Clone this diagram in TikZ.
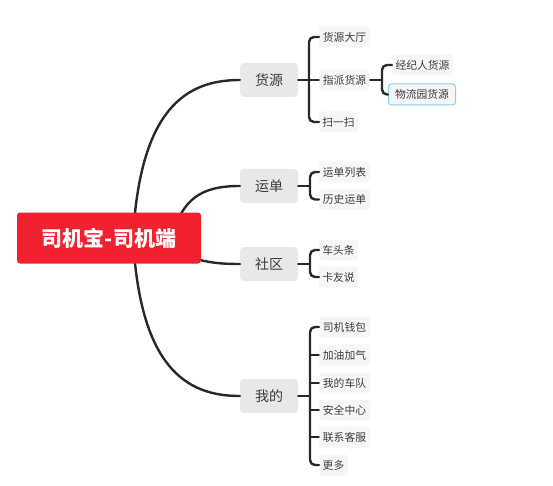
\documentclass[tikz,border=0pt]{standalone}
\usepackage{fontspec}
\setmainfont{Noto Sans CJK SC}
\definecolor{rootred}{RGB}{242,33,48}
\definecolor{linec}{RGB}{40,40,40}
\definecolor{mainfill}{RGB}{232,232,232}
\definecolor{leaffill}{RGB}{246,246,246}
\definecolor{txt}{RGB}{60,60,60}
\definecolor{selblue}{RGB}{128,210,245}
\tikzset{
  rootbox/.style={fill=rootred, rounded corners=3pt, minimum width=184pt, minimum height=51pt, text=white, font=\fontsize{21}{23}\selectfont\bfseries, inner sep=0pt},
  mainbox/.style={fill=mainfill, rounded corners=4pt, minimum width=58pt, minimum height=34pt, text=txt, font=\fontsize{14}{16}\selectfont, inner sep=0pt},
  leafbox/.style={fill=leaffill, rounded corners=3pt, minimum width=51pt, minimum height=21pt, text=txt, font=\fontsize{10.8}{12}\selectfont, inner sep=0pt},
  conn/.style={draw=linec, line width=2.4pt, line cap=round},
  brk/.style={conn, rounded corners=5pt}
}
\begin{document}
\begin{tikzpicture}[x=1pt, y=-1pt]
\useasboundingbox (0,0) rectangle (553,486);
% curves from root (drawn first, under the root box)
\coordinate (rc1) at (133,238);
\coordinate (rc2) at (172,238);
\coordinate (rc3) at (170,250);
\coordinate (rc4) at (133,238);
\node[mainbox] (m1) at (269,80) {货源};
\node[mainbox] (m2) at (269,186) {运单};
\node[mainbox] (m3) at (269,264) {社区};
\node[mainbox] (m4) at (269,396) {我的};
\draw[conn] (rc1) .. controls (140,110) and (185,80) .. (m1.west);
\draw[conn] (rc2) .. controls (182,198) and (202,186) .. (m2.west);
\draw[conn] (rc3) .. controls (200,262) and (215,264) .. (m3.west);
\draw[conn] (rc4) .. controls (140,366) and (185,396) .. (m4.west);
\node[rootbox] (root) at (109,238) {司机宝-司机端};

% 货源 group
\node[leafbox] (h1) at (344.5,37) {货源大厅};
\node[leafbox] (h2) at (344.5,80) {指派货源};
\node[leafbox, minimum width=39pt] (h3) at (338.5,122) {扫一扫};
\coordinate (b1) at (309,80);
\draw[conn] (m1.east) -- (b1);
\draw[brk] (h1.west) -| (b1) |- (h3.west);
\draw[conn] (b1) -- (h2.west);

\node[leafbox, minimum width=61pt] (s1) at (422.5,65) {经纪人货源};
\node[leafbox, minimum width=67pt, draw=selblue, line width=1pt] (s2) at (422,94.5) {物流园货源};
\coordinate (bs) at (382,80);
\draw[conn] (h2.east) -- (bs);
\draw[brk] (s1.west) -| (bs) |- (s2.west);

% 运单 group
\node[leafbox] (y1) at (344.5,172) {运单列表};
\node[leafbox] (y2) at (344.5,199.5) {历史运单};
\coordinate (b2) at (310,186);
\draw[conn] (m2.east) -- (b2);
\draw[brk] (y1.west) -| (b2) |- (y2.west);

% 社区 group
\node[leafbox, minimum width=39pt] (c1) at (338.5,250) {车头条};
\node[leafbox, minimum width=39pt] (c2) at (338.5,277) {卡友说};
\coordinate (b3) at (310,264);
\draw[conn] (m3.east) -- (b3);
\draw[brk] (c1.west) -| (b3) |- (c2.west);

% 我的 group
\node[leafbox] (w1) at (344.5,327) {司机钱包};
\node[leafbox] (w2) at (344.5,355) {加油加气};
\node[leafbox] (w3) at (344.5,383) {我的车队};
\node[leafbox] (w4) at (344.5,410) {安全中心};
\node[leafbox] (w5) at (344.5,437) {联系客服};
\node[leafbox, minimum width=29pt] (w6) at (333.5,465) {更多};
\coordinate (b4) at (310,396);
\draw[conn] (m4.east) -- (b4);
\draw[brk] (w1.west) -| (b4) |- (w6.west);
\foreach \n in {w2,w3,w4,w5} {
  \draw[conn] (\n.west) -- (\n.west -| b4);
}
\end{tikzpicture}
\end{document}
